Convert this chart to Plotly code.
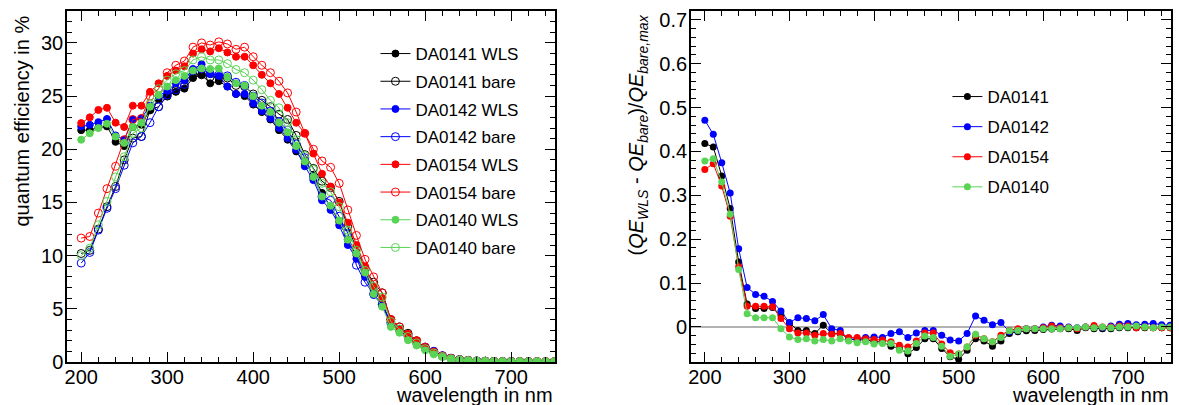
import plotly.graph_objects as go

wavelength = list(range(200, 751, 10))

da0141_wls = [21.8, 21.8, 22.05, 22.15, 20.7, 20.3, 22.1, 22.3, 23.7, 24.7, 25.0, 25.4, 25.7, 26.7, 27.0,
              26.2, 26.4, 25.9, 25.2, 25.0, 24.2, 23.5, 22.8, 21.8, 20.9, 19.8, 18.7, 17.6, 15.9, 14.6,
              13.2, 11.5, 10.05, 8.4, 6.8, 5.5, 3.7, 3.1, 2.35, 1.7, 1.25,
              0.85, 0.53, 0.31, 0.22, 0.14, 0.1, 0.07, 0.06, 0.05, 0.04, 0.04, 0.04, 0.03, 0.03, 0.03]
da0141_bare = [10.2, 10.5, 12.5, 14.6, 16.5, 19.0, 21.05, 21.2, 23.7, 24.0, 25.0, 25.5, 25.9, 27.0, 27.0,
               26.8, 26.8, 26.7, 26.0, 25.9, 25.2, 24.6, 24.0, 23.3, 22.8, 21.3, 19.5, 18.2, 17.0, 16.4,
               15.1, 12.7, 10.7, 8.7, 7.5, 6.5, 4.0, 3.3, 2.7, 2.0, 1.35,
               0.94, 0.57, 0.34, 0.22, 0.15, 0.1, 0.08, 0.06, 0.05, 0.05, 0.04, 0.04, 0.04, 0.03, 0.03]
da0142_wls = [22.15, 22.3, 22.55, 22.85, 21.3, 20.9, 22.8, 22.9, 24.1, 25.0, 25.5, 26.2, 26.5, 27.55, 28.0,
              27.1, 26.9, 25.9, 25.2, 25.2, 24.3, 23.6, 22.9, 22.0, 21.05, 19.95, 18.4, 17.1, 15.2, 14.3,
              12.85, 11.0, 9.7, 8.0, 6.3, 5.3, 3.5, 3.0, 2.3, 1.7, 1.4,
              1.05, 0.6, 0.38, 0.25, 0.16, 0.11, 0.08, 0.07, 0.06, 0.05, 0.05, 0.04, 0.04, 0.04, 0.04]
da0142_bare = [9.3, 10.3, 12.4, 14.45, 16.3, 18.5, 20.6, 21.2, 22.5, 24.0, 25.1, 25.6, 26.1, 27.4, 27.55,
               27.1, 27.0, 26.9, 26.3, 26.0, 25.0, 24.35, 23.6, 22.6, 21.8, 20.5, 19.2, 17.4, 15.55, 15.2,
               13.7, 12.1, 9.1, 7.5, 6.4, 5.4, 3.7, 3.05, 2.5, 1.9, 1.4,
               1.0, 0.6, 0.36, 0.23, 0.15, 0.11, 0.08, 0.06, 0.05, 0.05, 0.04, 0.04, 0.03, 0.03, 0.03]
da0154_wls = [22.46, 23.0, 23.7, 23.9, 22.5, 22.1, 24.1, 24.1, 25.4, 26.2, 26.9, 27.4, 27.8, 29.0, 29.4,
              29.2, 29.5, 29.1, 28.7, 28.7, 27.9, 27.0, 26.2, 25.2, 23.9, 22.5, 21.5, 19.6, 17.7, 16.5,
              15.0, 13.1, 11.0, 9.0, 7.1, 6.0, 4.0, 3.05, 2.6, 2.0, 1.35,
              0.94, 0.53, 0.31, 0.2, 0.15, 0.1, 0.08, 0.06, 0.05, 0.05, 0.05, 0.04, 0.04, 0.04, 0.04]
da0154_bare = [11.65, 11.8, 14.0, 16.3, 18.4, 20.9, 22.8, 22.9, 25.0, 25.7, 27.2, 27.9, 28.3, 29.6, 30.0,
               29.8, 30.1, 29.9, 29.4, 29.6, 28.7, 27.9, 27.2, 26.4, 25.3, 23.5, 21.5, 20.0, 18.9, 18.3,
               16.8, 14.3, 11.9, 9.65, 8.0, 6.5, 4.0, 3.3, 2.6, 2.0, 1.4,
               0.94, 0.57, 0.35, 0.22, 0.15, 0.1, 0.08, 0.06, 0.05, 0.05, 0.05, 0.04, 0.04, 0.04, 0.04]
da0140_wls = [20.9, 21.5, 22.0, 22.4, 21.2, 20.6, 22.1, 22.5, 24.0, 25.1, 25.9, 26.5, 26.9, 27.4, 27.6,
              27.55, 27.6, 26.8, 26.2, 26.0, 25.0, 24.1, 23.5, 22.5, 21.6, 20.3, 18.85, 17.4, 15.55, 14.7,
              13.3, 11.5, 10.2, 8.4, 6.4, 5.2, 3.3, 2.75, 2.05, 1.55, 1.1,
              0.72, 0.47, 0.28, 0.19, 0.13, 0.09, 0.07, 0.05, 0.04, 0.04, 0.04, 0.03, 0.03, 0.03, 0.03]
da0140_bare = [10.0, 10.7, 12.9, 15.1, 17.4, 19.3, 21.5, 22.0, 24.3, 25.7, 26.5, 27.1, 27.4, 28.4, 28.7,
               28.4, 28.4, 28.05, 27.5, 27.2, 26.5, 25.6, 24.6, 23.9, 22.5, 20.9, 19.4, 18.1, 16.8, 16.0,
               14.6, 12.4, 10.5, 8.6, 7.1, 6.1, 3.8, 3.1, 2.4, 1.8, 1.25,
               0.85, 0.52, 0.3, 0.2, 0.14, 0.1, 0.07, 0.06, 0.05, 0.04, 0.04, 0.04, 0.03, 0.03, 0.03]

# right panel: (QE_WLS - QE_bare) / QE_bare,max
diff_da0141 = [0.418, 0.410, 0.344, 0.270, 0.148, 0.052, 0.042, 0.042, 0.044, 0.027, 0.008, -0.008, -0.008,
               -0.015, 0.004, -0.015, -0.015, -0.027, -0.030, -0.029, -0.034, -0.034, -0.044, -0.049, -0.061,
               -0.047, -0.027, -0.027, -0.049, -0.068, -0.074, -0.053, -0.027, -0.032, -0.044, -0.032, -0.015,
               -0.011, -0.009, -0.008, -0.006, -0.005, -0.004, -0.004, -0.008, -0.002, -0.004, -0.004, -0.004,
               -0.002, -0.002, -0.002, -0.002, -0.002, -0.002, -0.002]
diff_da0142 = [0.471, 0.439, 0.374, 0.305, 0.178, 0.090, 0.074, 0.070, 0.058, 0.036, 0.010, 0.021, 0.019,
               0.014, 0.028, -0.004, -0.008, -0.029, -0.027, -0.024, -0.023, -0.024, -0.015, -0.011, -0.024,
               -0.014, -0.008, -0.008, -0.019, -0.030, -0.032, -0.015, 0.025, 0.015, 0.005, 0.010, -0.011,
               -0.008, -0.004, -0.004, 0.0, 0.004, 0.002, 0.0, -0.002, 0.0, -0.001, -0.002, 0.002, 0.006,
               0.008, 0.005, 0.006, 0.008, 0.005, 0.004]
diff_da0154 = [0.359, 0.372, 0.321, 0.252, 0.137, 0.047, 0.047, 0.047, 0.046, 0.019, -0.004, -0.014, -0.014,
               -0.019, -0.015, -0.017, -0.015, -0.024, -0.024, -0.027, -0.029, -0.030, -0.034, -0.042, -0.046,
               -0.032, -0.014, -0.014, -0.039, -0.059, -0.062, -0.046, -0.019, -0.027, -0.034, -0.019, -0.008,
               -0.004, -0.004, -0.004, -0.002, 0.002, -0.002, -0.002, -0.004, 0.0, 0.003, 0.0, 0.0, 0.002,
               0.002, -0.002, 0.0, -0.002, -0.002, -0.002]
diff_da0140 = [0.378, 0.383, 0.330, 0.257, 0.131, 0.030, 0.021, 0.021, 0.021, -0.004, -0.023, -0.029, -0.027,
               -0.032, -0.029, -0.032, -0.027, -0.032, -0.036, -0.034, -0.039, -0.038, -0.038, -0.053, -0.055,
               -0.038, -0.021, -0.024, -0.044, -0.067, -0.062, -0.046, -0.017, -0.027, -0.034, -0.024, -0.009,
               -0.008, -0.004, -0.004, -0.004, -0.004, -0.004, -0.002, -0.002, 0.0, -0.002, 0.0, -0.002, 0.0,
               0.0, 0.002, 0.0, -0.002, 0.0, 0.0]

BLACK = "#000000"
BLUE = "#0000ff"
RED = "#ff0000"
GREEN = "#59d454"
FONT = "Liberation Sans, Arial, Helvetica, sans-serif"

left_series = [
    ("DA0141 WLS", da0141_wls, BLACK, True),
    ("DA0141 bare", da0141_bare, BLACK, False),
    ("DA0142 WLS", da0142_wls, BLUE, True),
    ("DA0142 bare", da0142_bare, BLUE, False),
    ("DA0154 WLS", da0154_wls, RED, True),
    ("DA0154 bare", da0154_bare, RED, False),
    ("DA0140 WLS", da0140_wls, GREEN, True),
    ("DA0140 bare", da0140_bare, GREEN, False),
]
right_series = [
    ("DA0141", diff_da0141, BLACK),
    ("DA0142", diff_da0142, BLUE),
    ("DA0154", diff_da0154, RED),
    ("DA0140", diff_da0140, GREEN),
]

fig = go.Figure()
for i, (name, vals, col, filled) in enumerate(left_series):
    fig.add_trace(go.Scatter(
        x=wavelength, y=vals, name=name, mode="lines+markers",
        line=dict(color=col, width=1),
        marker=dict(symbol="circle" if filled else "circle-open", size=7 if filled else 8,
                    color=col, line=dict(color=col, width=1)),
        xaxis="x", yaxis="y", legend="legend", legendgroup="L%d" % i,
    ))
for i, (name, vals, col) in enumerate(right_series):
    fig.add_trace(go.Scatter(
        x=wavelength, y=vals, name=name, mode="lines+markers",
        line=dict(color=col, width=1),
        marker=dict(symbol="circle", size=7, color=col),
        xaxis="x2", yaxis="y2", legend="legend2", legendgroup="R%d" % i,
    ))

common_x = dict(range=[183.5, 751], tick0=200, dtick=100, ticks="inside", ticklen=10, tickwidth=1,
                tickcolor="black", showline=True, linecolor="black", linewidth=1.5, mirror="allticks",
                showgrid=False, zeroline=False, tickfont=dict(size=20, color="black", family=FONT),
                ticklabelstandoff=-4,
                minor=dict(ticks="inside", ticklen=5, dtick=20, tick0=200, tickcolor="black", showgrid=False))

common_y = dict(domain=[0, 1], ticks="inside", ticklen=10, tickcolor="black", showline=True,
                linecolor="black", linewidth=1.5, mirror="allticks", showgrid=False, zeroline=False,
                tickfont=dict(size=20, color="black", family=FONT), ticklabelstandoff=-2)

fig.update_layout(
    width=1179, height=405,
    margin=dict(l=67, r=6, t=11, b=43),
    paper_bgcolor="white", plot_bgcolor="white",
    font=dict(family=FONT, color="black"),
    xaxis=dict(domain=[0, 0.4421], anchor="y", **common_x),
    xaxis2=dict(domain=[0.5651, 1], anchor="y2", **common_x),
    yaxis=dict(range=[0, 33], anchor="x", dtick=5, tick0=0,
               minor=dict(ticks="inside", ticklen=5, dtick=1, tickcolor="black", showgrid=False),
               **common_y),
    yaxis2=dict(range=[-0.08, 0.72], anchor="x2", dtick=0.1, tick0=0, tickformat="~g",
                minor=dict(ticks="inside", ticklen=5, dtick=0.02, tick0=0, tickcolor="black", showgrid=False),
                **common_y),
    legend=dict(x=(376 - 67) / 1106, y=(362 - 36) / 351, xanchor="left", yanchor="top",
                bgcolor="rgba(0,0,0,0)", font=dict(size=17, family=FONT), tracegroupgap=2.6,
                itemwidth=30),
    legend2=dict(x=(949 - 67) / 1106, y=(362 - 79) / 351, xanchor="left", yanchor="top",
                 bgcolor="rgba(0,0,0,0)", font=dict(size=17, family=FONT), tracegroupgap=5,
                 itemwidth=30),
    showlegend=True,
    shapes=[dict(type="line", xref="x2 domain", yref="y2", x0=0, x1=1, y0=0, y1=0,
                 line=dict(color="#999999", width=1.5), layer="below")],
    annotations=[
        dict(text="quantum efficiency in %", textangle=-90, xref="paper", yref="paper",
             x=(22 - 67) / 1106, y=(362 - 14) / 351, xanchor="center", yanchor="top",
             showarrow=False, font=dict(size=20, family=FONT)),
        dict(text="(<i>QE</i><sub><i>WLS</i></sub> - <i>QE</i><sub><i>bare</i></sub>)/<i>QE</i><sub><i>bare,max</i></sub>",
             textangle=-90, xref="paper", yref="paper",
             x=(639 - 67) / 1106, y=(362 - 12) / 351, xanchor="center", yanchor="top",
             showarrow=False, font=dict(size=20, family=FONT)),
        dict(text="wavelength in nm", xref="paper", yref="paper", x=0.4421, y=(362 - 395) / 351,
             xanchor="right", yanchor="middle", showarrow=False, font=dict(size=20, family=FONT)),
        dict(text="wavelength in nm", xref="paper", yref="paper", x=1.0, y=(362 - 395) / 351,
             xanchor="right", yanchor="middle", showarrow=False, font=dict(size=20, family=FONT)),
    ],
)

fig.write_html("out.html", config={"displayModeBar": False},
               post_script="document.body.style.margin='0px';")
